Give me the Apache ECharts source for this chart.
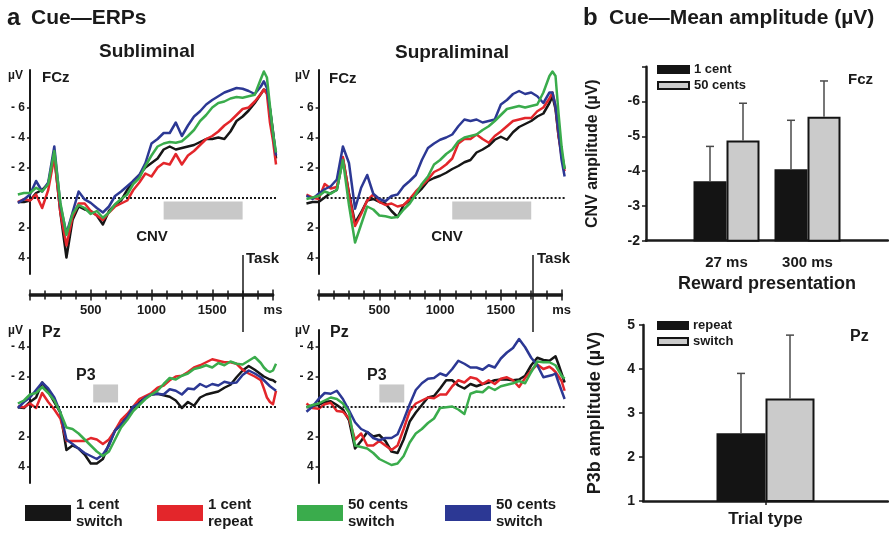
<!DOCTYPE html>
<html>
<head>
<meta charset="utf-8">
<script src="https://cdn.jsdelivr.net/npm/echarts@6/dist/echarts.min.js"></script>
<style>
  html, body { margin: 0; padding: 0; background: #fff; overflow: hidden; }
  #chart { width: 889px; height: 536px; }
</style>
</head>
<body>
<div id="chart"></div>
<script>
// sample times (ms from cue onset)
const times = [
  -100, -50, 0, 50, 100, 150, 200, 250, 300, 350, 400, 450,
  500, 550, 600, 650, 700, 750, 800, 850, 900, 950, 1000, 1050,
  1100, 1150, 1200, 1250, 1300, 1350, 1400, 1450, 1500, 1550, 1600, 1650,
  1700, 1750, 1800, 1850, 1900, 1925, 1950, 1975, 2000, 2025
]

// Subliminal, FCz (µV)
const subFczBlack = [
  0.3, 0.3, 0.2, -0.3, -0.5, -0.9, -2.8, 1.0, 4.0, 1.5, 0.6, 0.8,
  0.9, 1.2, 1.8, 0.9, 0.5, 0.2, -0.5, -1.1, -1.5, -2.0, -2.3, -2.6,
  -3.2, -3.4, -3.2, -3.3, -3.4, -3.5, -3.7, -3.9, -3.9, -4.0, -3.9, -4.4,
  -5.1, -5.4, -5.8, -6.3, -6.9, -7.2, -7.0, -5.9, -4.4, -2.6
]
const subFczRed = [
  0.3, 0.1, 0.2, -0.2, 0.7, -0.5, -2.7, 1.0, 3.2, 1.3, 0.4, 0.4,
  0.9, 1.2, 1.5, 1.0, 0.6, 0.4, 0.2, -0.5, -1.0, -1.6, -1.4, -2.0,
  -2.3, -2.2, -2.9, -2.2, -2.8, -3.1, -3.5, -3.9, -4.1, -4.4, -4.8, -5.1,
  -5.5, -5.9, -6.0, -6.4, -6.9, -7.2, -6.9, -5.0, -3.8, -2.2
]
const subFczGreen = [
  -0.2, -0.3, -0.3, -0.65, -0.4, -0.9, -3.1, 0.35, 2.5, 1.1, 0.5, 0.7,
  1.1, 0.9, 1.35, 1.0, 0.45, 0.1, -0.2, -0.9, -1.3, -2.1, -2.8, -3.4,
  -3.6, -3.7, -3.65, -3.75, -4.1, -4.5, -5.1, -5.5, -6.0, -6.3, -6.4, -6.6,
  -6.7, -6.65, -6.75, -6.85, -7.9, -8.4, -8.0, -6.1, -4.3, -3.0
]
const subFczBlue = [
  0.36, 0.13, -0.2, -1.1, -0.4, -1.0, -3.4, 0.5, 2.4, 1.0, -0.4, 0.13,
  0.36, 0.7, 1.0, 0.6, -0.1, -0.4, -0.75, -1.1, -1.5, -2.3, -3.6, -3.9,
  -4.3, -4.3, -5.0, -4.1, -4.8, -5.4, -5.75, -6.2, -6.5, -6.75, -7.0, -7.15,
  -7.3, -7.25, -7.1, -6.9, -7.4, -7.75, -7.3, -5.9, -4.3, -2.8
]

// Supraliminal, FCz (µV)
const supFczBlack = [
  0.4, 0.3, 0.3, 0.0, -0.3, -0.5, -2.6, -0.3, 1.7, 1.0, 0.2, 0.1,
  0.3, 0.4, 0.9, 1.3, 0.5, 0.2, -0.2, -0.6, -1.1, -1.3, -1.45, -1.65,
  -1.9, -2.1, -2.35, -2.5, -3.0, -3.2, -3.45, -3.85, -4.05, -3.85, -4.35, -4.7,
  -4.9, -5.1, -5.4, -5.6, -6.3, -6.75, -5.9, -4.1, -3.0, -1.9
]
const supFczRed = [
  -0.2, 0.0, 0.1, -0.9, -0.6, -0.7, -2.7, -0.2, 1.9, 1.1, 0.2, -0.2,
  0.3, 0.5, 0.4, 0.6, 0.5, 0.1, -0.4, -0.8, -1.2, -1.7, -1.9, -2.2,
  -2.6, -3.6, -3.9, -3.9, -4.2, -3.9, -3.65, -4.1, -4.4, -4.75, -5.1, -5.2,
  -5.3, -5.3, -5.75, -6.0, -6.6, -7.0, -6.1, -4.1, -2.75, -1.75
]
const supFczGreen = [
  0.1, 0.0, -0.1, -0.4, -0.25, -0.5, -2.5, 0.5, 3.0, 1.8, 0.6, 0.8,
  1.2, 1.25, 1.35, 1.3, 0.8, 0.4, -0.2, -0.9, -1.4, -2.2, -2.5, -2.9,
  -3.2, -3.75, -4.0, -4.1, -4.2, -4.5, -4.75, -5.1, -5.5, -5.9, -6.0, -6.1,
  -6.0, -6.1, -6.2, -7.0, -8.1, -8.4, -8.1, -5.6, -3.4, -1.9
]
const supFczBlue = [
  -0.13, 0.1, -0.25, -0.55, -0.75, -1.2, -3.4, -2.3, 0.75, -0.65, -1.5, -0.25,
  0.1, 0.25, -0.1, -0.2, -0.75, -1.1, -1.5, -2.5, -3.3, -3.6, -3.85, -4.0,
  -4.2, -4.75, -5.2, -5.1, -5.2, -5.0, -5.1, -5.2, -6.2, -6.5, -6.9, -7.1,
  -6.9, -7.0, -6.75, -6.3, -7.0, -7.0, -6.1, -4.3, -2.5, -1.4
]

// Subliminal, Pz (µV)
const subPzBlack = [
  0.05, 0.1, -0.3, -0.6, -1.6, -1.0, -0.3, 0.4, 2.9, 2.6, 2.8, 3.2,
  3.8, 3.8, 3.5, 2.5, 1.6, 1.2, 0.6, 0.1, -0.3, -0.6, -0.8, -0.85,
  -0.75, -0.65, -0.4, 0.1, -0.3, -0.05, -0.6, -0.8, -0.9, -1.0, -1.25, -1.45,
  -1.95, -2.4, -2.7, -2.45, -2.15, -2.0, -1.9, -1.8, -1.75, -1.6
]
const subPzRed = [
  0.0, 0.05, -0.2, 0.1, -0.9, -0.3, 0.2, 0.8, 2.3, 2.3, 2.3, 2.3,
  2.1, 2.2, 2.5, 2.2, 1.6, 0.9, 0.5, 0.0, -0.5, -0.7, -0.9, -1.25,
  -1.4, -1.75, -2.0, -2.05, -2.3, -2.6, -2.75, -2.95, -3.15, -3.05, -2.95, -2.95,
  -2.85, -2.45, -2.2, -2.0, -1.75, -1.2, -0.6, -0.3, -0.15, -1.05
]
const subPzGreen = [
  -0.2, -0.4, -0.8, -0.9, -1.3, -0.9, -0.4, 0.4, 1.4, 1.5, 1.8, 2.2,
  2.6, 3.0, 3.3, 3.0, 2.2, 1.4, 0.9, 0.3, -0.1, -0.5, -0.8, -1.05,
  -1.5, -1.9, -1.8, -2.05, -2.2, -2.5, -2.6, -2.75, -2.6, -2.9, -2.75, -3.0,
  -2.85, -2.8, -3.05, -3.3, -2.9, -2.6, -2.4, -2.3, -2.4, -2.85
]
const subPzBlue = [
  0.1, -0.3, -0.6, -1.1, -1.6, -1.2, -0.6, 0.4, 2.2, 2.5, 2.8, 3.1,
  3.3, 3.5, 3.2, 2.6, 1.6, 1.2, 0.7, 0.0, -0.2, -0.6, -0.8, -0.85,
  -0.8, -1.15, -1.05, -0.8, -1.2, -1.15, -1.5, -1.3, -1.5, -1.4, -1.65, -1.55,
  -1.6, -2.1, -2.4, -2.2, -1.95, -1.75, -1.55, -1.35, -1.2, -1.05
]

// Supraliminal, Pz (µV)
const supPzBlack = [
  0.05, -0.05, -0.1, -0.3, -0.35, -0.1, 0.2, 0.9, 2.8, 2.3, 1.7, 2.0,
  1.9, 2.3, 3.0, 3.1, 2.2, 1.0, 0.4, -0.1, -0.6, -0.7, -1.2, -1.75,
  -1.75, -1.4, -1.2, -1.5, -1.35, -1.5, -1.6, -1.75, -1.8, -1.8, -1.75, -1.8,
  -2.05, -2.75, -3.25, -3.1, -3.05, -3.2, -3.35, -2.8, -2.2, -1.6
]
const supPzRed = [
  -0.2, 0.1, 0.15, -0.15, -0.25, 0.3, 0.35, 0.8, 2.2, 1.8, 2.6, 2.6,
  2.3, 2.6, 2.9, 2.6, 1.5, 0.3, -0.2, -0.4, -0.6, -0.55, -0.8, -0.8,
  -1.35, -1.75, -1.6, -1.95, -1.85, -1.5, -1.75, -1.5, -1.85, -1.95, -1.75, -1.3,
  -1.9, -2.4, -2.8, -2.5, -2.65, -2.5, -2.3, -2.0, -1.7, -1.05
]
const supPzGreen = [
  0.05, -0.1, -0.2, -0.4, -0.6, -0.5, -0.2, 0.4, 2.6, 2.7, 2.8, 3.1,
  3.5, 3.7, 3.9, 3.8, 3.3, 2.4, 1.8, 1.5, 1.1, 0.8, 0.1, 0.05,
  0.0, 0.2, 0.5, -0.85, -1.0, -0.95, -1.3, -1.1, -1.35, -1.45, -1.55, -1.7,
  -1.55, -2.3, -3.0, -2.95, -2.95, -2.85, -2.75, -2.4, -2.05, -1.85
]
const supPzBlue = [
  0.35, 0.0, -0.5, -0.9, -0.85, -1.05, -0.5, 0.25, 1.05, 1.5, 1.7, 2.1,
  2.25, 2.1, 2.1, 1.85, 0.9, -0.15, -1.1, -1.55, -1.85, -1.9, -2.2, -2.05,
  -2.5, -3.05, -2.85, -2.6, -2.6, -2.45, -2.75, -2.6, -3.2, -3.6, -3.9, -4.5,
  -3.95, -3.25, -2.75, -1.95, -2.05, -2.1, -2.2, -1.6, -1.05, -0.5
]

const fczTicks = [-6, -4, -2, 2, 4]
const pzTicks = [-4, -2, 2, 4]
const msTicks = [500, 1000, 1500]
// analysis windows: [t0, v0], [t1, v1]
const cnvWindow = [[1100, 0.27], [1750, 1.47]]
const p3WindowSub = [[520, -1.47], [725, -0.27]]
const p3WindowSup = [[500, -1.47], [705, -0.27]]

// panel b
const rewardCategories = ['27 ms', '300 ms']
const cnvOneCent = [-3.71, -4.05]
const cnvFiftyCents = [-4.88, -5.56]
const cnvOneCentErr = [1.0, 1.41]
const cnvFiftyCentsErr = [1.07, 1.03]
const cnvTicks = [-6, -5, -4, -3, -2]
const trialCategories = ['']
const p3Repeat = [2.54]
const p3Switch = [3.33]
const p3RepeatErr = [1.36]
const p3SwitchErr = [1.44]

const font = "'Liberation Sans', Arial, Helvetica, sans-serif"
const ink = '#1a1a1a'
// drawing order: black, red, blue, green
const lineColors = ['#161616', '#e3262b', '#2c3894', '#3aac4c']
const lineNames = ['1 cent\nswitch', '1 cent\nrepeat', '50 cents\nswitch ', '50 cents\nswitch']

const erpPanels = [
  { left: 17.85, top: 70, height: 204, min: -8.5, max: 5.1, ticks: fczTicks,
    lines: [subFczBlack, subFczRed, subFczBlue, subFczGreen], box: cnvWindow },
  { left: 306.45, top: 70, height: 204, min: -8.5, max: 5.1, ticks: fczTicks,
    lines: [supFczBlack, supFczRed, supFczBlue, supFczGreen], box: cnvWindow },
  { left: 17.85, top: 330, height: 153, min: -5.1, max: 5.1, ticks: pzTicks,
    lines: [subPzBlack, subPzRed, subPzBlue, subPzGreen], box: p3WindowSub },
  { left: 306.45, top: 330, height: 153, min: -5.1, max: 5.1, ticks: pzTicks,
    lines: [supPzBlack, supPzRed, supPzBlue, supPzGreen], box: p3WindowSup },
]

const grid = []
const xAxis = []
const yAxis = []
const series = []

const boldLabel = (size) => ({ color: ink, fontWeight: 'bold', fontSize: size, fontFamily: font })

erpPanels.forEach((p, i) => {
  grid.push({ left: p.left, top: p.top, width: 260, height: p.height, outerBoundsMode: 'none' })
  xAxis.push({ gridIndex: i, type: 'value', min: -100, max: 2040, show: false })
  yAxis.push({
    gridIndex: i, type: 'value', inverse: true, min: p.min, max: p.max,
    offset: -12.15,
    axisLine: { show: true, onZero: false, lineStyle: { color: ink, width: 2 } },
    axisTick: { show: true, length: 3, customValues: p.ticks, lineStyle: { color: ink, width: 1.5 } },
    axisLabel: {
      ...boldLabel(12), margin: 5, customValues: p.ticks,
      formatter: v => v < 0 ? '- ' + (-v) : String(v)
    },
    splitLine: { show: false }
  })
  p.lines.forEach((vals, k) => {
    const s = {
      type: 'line', name: lineNames[k], xAxisIndex: i, yAxisIndex: i,
      data: times.map((t, j) => [t, vals[j]]),
      showSymbol: false, symbol: 'none', silent: true, z: 3 + k,
      lineStyle: { color: lineColors[k], width: 2.5, join: 'round' },
      itemStyle: { color: lineColors[k] }
    }
    if (k === 0) {
      s.markLine = {
        silent: true, symbol: 'none', label: { show: false },
        lineStyle: { type: [2, 2], color: ink, width: 2 },
        data: [[{ coord: [0, 0] }, { coord: [2040, 0] }]]
      }
      s.markArea = {
        silent: true, itemStyle: { color: '#c8c8c8' },
        data: [[{ coord: p.box[0] }, { coord: p.box[1] }]]
      }
    }
    series.push(s)
  })
})

// time axes (ms), drawn as a pair of axes so the ticks cross the line
const msLeft = [30, 318.6]
msLeft.forEach((left, n) => {
  const g = grid.length
  grid.push({ left, top: 294.5, width: 243, height: 1, outerBoundsMode: 'none' })
  const base = {
    gridIndex: g, type: 'value', min: 0, max: 2000, interval: 500,
    axisLine: { onZero: false, lineStyle: { color: ink, width: 2.5 } },
    axisTick: { length: 5, lineStyle: { color: ink, width: 1.5 } },
    minorTick: { show: true, splitNumber: 4, length: 4, lineStyle: { color: ink, width: 1.5 } },
    splitLine: { show: false }, minorSplitLine: { show: false }
  }
  xAxis.push({
    ...base, position: 'bottom',
    axisLabel: {
      ...boldLabel(13), margin: 8,
      formatter: v => msTicks.includes(v) ? String(v) : (v === 2000 ? 'ms' : '')
    }
  })
  xAxis.push({ ...base, position: 'top', axisLabel: { show: false } })
  yAxis.push({ gridIndex: g, type: 'value', show: false })
})

// panel b, CNV bars: frame grid (axis lines) + bar grid
const frameGrid = grid.length
grid.push({ left: 646, top: 66.7, width: 242, height: 174, outerBoundsMode: 'none' })
xAxis.push({
  gridIndex: frameGrid, type: 'value', min: 0, max: 1,
  axisLine: { onZero: false, lineStyle: { color: ink, width: 2.5 } },
  axisTick: { show: false }, axisLabel: { show: false }, splitLine: { show: false }
})
yAxis.push({
  gridIndex: frameGrid, type: 'value', inverse: true, min: -7, max: -2, interval: 1,
  axisLine: { show: true, onZero: false, lineStyle: { color: ink, width: 2.5 } },
  axisTick: { show: true, length: 4, lineStyle: { color: ink, width: 1.5 } },
  axisLabel: { ...boldLabel(14), margin: 6, formatter: v => cnvTicks.includes(v) ? String(v) : '' },
  splitLine: { show: false },
  name: 'CNV amplitude (µV)', nameLocation: 'middle', nameRotate: 90, nameGap: 45,
  nameTextStyle: boldLabel(16)
})

const barGrid = grid.length
grid.push({ left: 686, top: 66.7, width: 162, height: 174, outerBoundsMode: 'none' })
const barX = xAxis.length
xAxis.push({
  gridIndex: barGrid, type: 'category', data: rewardCategories,
  axisLine: { show: false }, axisTick: { show: false },
  axisLabel: { ...boldLabel(15), margin: 15 },
  name: 'Reward presentation', nameLocation: 'middle', nameGap: 34,
  nameTextStyle: boldLabel(18)
})
const barY = yAxis.length
yAxis.push({ gridIndex: barGrid, type: 'value', inverse: true, min: -7, max: -2, show: false })

// panel b, P3b bars
const p3Grid = grid.length
grid.push({ left: 643, top: 325, width: 245, height: 176, outerBoundsMode: 'none' })
const p3X = xAxis.length
xAxis.push({
  gridIndex: p3Grid, type: 'category', data: trialCategories,
  axisLine: { onZero: false, lineStyle: { color: ink, width: 2.5 } },
  axisTick: { show: true, alignWithLabel: true, length: 4, lineStyle: { color: ink, width: 1.5 } },
  axisLabel: { show: false },
  name: 'Trial type', nameLocation: 'middle', nameGap: 10,
  nameTextStyle: boldLabel(17)
})
const p3Y = yAxis.length
yAxis.push({
  gridIndex: p3Grid, type: 'value', min: 1, max: 5, interval: 1,
  axisLine: { show: true, onZero: false, lineStyle: { color: ink, width: 2.5 } },
  axisTick: { show: true, length: 4, lineStyle: { color: ink, width: 1.5 } },
  axisLabel: { ...boldLabel(14), margin: 8 },
  splitLine: { show: false },
  name: 'P3b amplitude (µV)', nameLocation: 'middle', nameRotate: 90, nameGap: 39,
  nameTextStyle: boldLabel(18)
})

const darkBar = { color: '#141414', borderColor: '#141414', borderWidth: 1.5 }
const lightBar = { color: '#cbcbcb', borderColor: '#141414', borderWidth: 2 }

function errorBars(offset) {
  return (params, api) => {
    const p0 = api.coord([api.value(0), api.value(1)])
    const p1 = api.coord([api.value(0), api.value(2)])
    const x = p0[0] + offset
    const style = { stroke: '#4a4a4a', lineWidth: 1.5 }
    return {
      type: 'group',
      children: [
        { type: 'line', shape: { x1: x, y1: p0[1], x2: x, y2: p1[1] }, style },
        { type: 'line', shape: { x1: x - 4, y1: p1[1], x2: x + 4, y2: p1[1] }, style }
      ]
    }
  }
}

series.push(
  { type: 'bar', name: '1 cent', xAxisIndex: barX, yAxisIndex: barY, data: cnvOneCent,
    barWidth: 33, barGap: '0%', clip: true, itemStyle: darkBar, silent: true },
  { type: 'bar', name: '50 cents', xAxisIndex: barX, yAxisIndex: barY, data: cnvFiftyCents,
    barWidth: 33, barGap: '0%', clip: true, itemStyle: lightBar, silent: true },
  { type: 'custom', name: 'err1', xAxisIndex: barX, yAxisIndex: barY, z: 4, silent: true,
    renderItem: errorBars(-16.5),
    data: cnvOneCent.map((v, i) => [i, v, v - cnvOneCentErr[i]]) },
  { type: 'custom', name: 'err2', xAxisIndex: barX, yAxisIndex: barY, z: 4, silent: true,
    renderItem: errorBars(16.5),
    data: cnvFiftyCents.map((v, i) => [i, v, v - cnvFiftyCentsErr[i]]) },
  { type: 'bar', name: 'repeat', xAxisIndex: p3X, yAxisIndex: p3Y, data: p3Repeat,
    barWidth: 49, barGap: '0%', clip: true, itemStyle: darkBar, silent: true },
  { type: 'bar', name: 'switch', xAxisIndex: p3X, yAxisIndex: p3Y, data: p3Switch,
    barWidth: 49, barGap: '0%', clip: true, itemStyle: lightBar, silent: true },
  { type: 'custom', name: 'err3', xAxisIndex: p3X, yAxisIndex: p3Y, z: 4, silent: true,
    renderItem: errorBars(-24.5),
    data: p3Repeat.map((v, i) => [i, v, v + p3RepeatErr[i]]) },
  { type: 'custom', name: 'err4', xAxisIndex: p3X, yAxisIndex: p3Y, z: 4, silent: true,
    renderItem: errorBars(24.5),
    data: p3Switch.map((v, i) => [i, v, v + p3SwitchErr[i]]) }
)

// legends
const erpLegendOrder = ['1 cent\nswitch', '1 cent\nrepeat', '50 cents\nswitch', '50 cents\nswitch ']
const erpLegendLeft = [25, 157, 297, 445]
const legend = erpLegendOrder.map((name, i) => ({
  data: [name], left: erpLegendLeft[i], top: 496, padding: 0,
  icon: 'rect', itemWidth: 46, itemHeight: 16, selectedMode: false,
  itemStyle: { borderWidth: 0 },
  textStyle: { ...boldLabel(15), lineHeight: 17, padding: [0, 0, 0, 0] }
}))
legend.push(
  { data: ['1 cent', '50 cents'], left: 657, top: 62, padding: 0, orient: 'vertical',
    icon: 'rect', itemWidth: 31, itemHeight: 7, itemGap: 1, selectedMode: false,
    textStyle: { ...boldLabel(13), lineHeight: 15 } },
  { data: ['repeat', 'switch'], left: 657, top: 318, padding: 0, orient: 'vertical',
    icon: 'rect', itemWidth: 30, itemHeight: 7, itemGap: 1, selectedMode: false,
    textStyle: { ...boldLabel(13), lineHeight: 15 } }
)

function label(text, x, y, size, align) {
  return {
    type: 'text', x, y, silent: true,
    style: {
      text, fill: ink, font: `bold ${size}px ${font}`,
      align: align || 'left', verticalAlign: 'middle',
      textAlign: align || 'left', textVerticalAlign: 'middle'
    }
  }
}
function vline(x, y1, y2) {
  return { type: 'line', silent: true, shape: { x1: x, y1, x2: x, y2 }, style: { stroke: ink, lineWidth: 1.5 } }
}

const graphic = [
  label('a', 7, 18, 24), label('Cue—ERPs', 31, 18, 21),
  label('Subliminal', 147, 52, 19, 'center'), label('Supraliminal', 452, 53, 19, 'center'),
  label('µV', 8, 76, 12), label('FCz', 42, 78, 15),
  label('µV', 295, 76, 12), label('FCz', 329, 79, 15),
  label('µV', 8, 331, 12), label('Pz', 42, 333, 16),
  label('µV', 295, 331, 12), label('Pz', 330, 333, 16),
  label('CNV', 152, 237, 15, 'center'), label('CNV', 447, 237, 15, 'center'),
  label('Task', 246, 259, 15), label('Task', 537, 259, 15),
  label('P3', 76, 376, 16), label('P3', 367, 376, 16),
  vline(243, 255, 332), vline(533, 255, 332),
  label('b', 583, 18, 24), label('Cue—Mean amplitude (µV)', 609, 18, 21),
  label('Fcz', 848, 80, 15), label('Pz', 850, 337, 16)
]

const chart = echarts.init(document.getElementById('chart'), null, { renderer: 'canvas' })
chart.setOption({
  animation: false,
  backgroundColor: '#fff',
  textStyle: { fontFamily: font },
  grid, xAxis, yAxis, series, legend, graphic
})
</script>
</body>
</html>
